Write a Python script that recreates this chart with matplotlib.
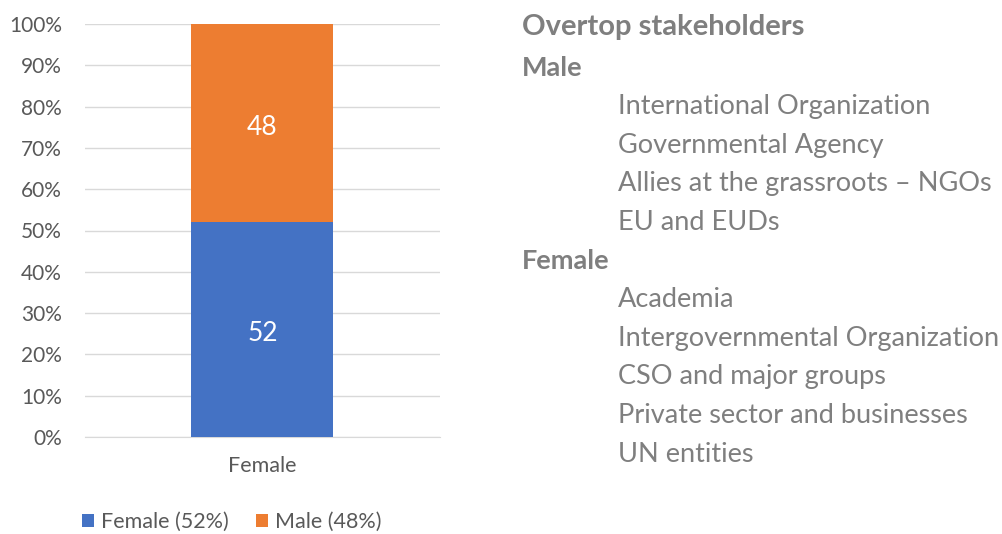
import matplotlib.pyplot as plt
from matplotlib.ticker import PercentFormatter

plt.rcParams['font.family'] = ['Lato', 'DejaVu Sans']

categories = ['Female']
female = [52]
male = [48]
male_groups = ['International Organization', 'Governmental Agency',
               'Allies at the grassroots \u2013 NGOs', 'EU and EUDs']
female_groups = ['Academia', 'Intergovernmental Organization',
                 'CSO and major groups', 'Private sector and businesses',
                 'UN entities']

blue = '#4472c4'
orange = '#ed7d31'

fig = plt.figure(figsize=(10.03, 5.34), dpi=100)
W, H = 1003, 534
ax = fig.add_axes([85 / W, 1 - 437 / H, 355 / W, 413 / H])

x = range(len(categories))
b1 = ax.bar(x, female, width=0.4, color=blue, label='Female (52%)', zorder=3)
b2 = ax.bar(x, male, width=0.4, bottom=female, color=orange, label='Male (48%)', zorder=3)
ax.bar_label(b1, label_type='center', color='white', fontsize=19, padding=-3)
ax.bar_label(b2, label_type='center', color='white', fontsize=19, padding=-3)

ax.set_xlim(-0.5, 0.5)
ax.set_ylim(0, 100)
ax.set_yticks(range(0, 101, 10))
ax.yaxis.set_major_formatter(PercentFormatter(decimals=0))
ax.set_xticks(list(x))
ax.set_xticklabels(categories)
ax.grid(axis='y', color='#d9d9d9', lw=1, zorder=0)
for s in ['top', 'right', 'left']:
    ax.spines[s].set_visible(False)
ax.spines['bottom'].set_color('#d9d9d9')
ax.tick_params(axis='y', length=0, labelsize=15, labelcolor='#595959', pad=16.5)
ax.tick_params(axis='x', length=0, labelsize=15.5, labelcolor='#595959', pad=14)

fig.legend(handles=[b1, b2], loc='center left', bbox_to_anchor=(63 / W, 1 - 522 / H),
           ncol=2, frameon=False, fontsize=15.5, labelcolor='#595959',
           handlelength=0.55, handleheight=0.55, handletextpad=0.3, columnspacing=1.3)

gray = '#7f7f7f'
step = 38.6
y = 27
fig.text(522 / W, 1 - y / H, 'Overtop stakeholders', fontsize=21, fontweight='bold',
         color=gray, va='center')
y += 41
fig.text(522 / W, 1 - y / H, 'Male', fontsize=19.5, fontweight='bold', color=gray, va='center')
for g in male_groups:
    y += step
    fig.text(618 / W, 1 - y / H, g, fontsize=19.5, color=gray, va='center')
y += step
fig.text(522 / W, 1 - y / H, 'Female', fontsize=19.5, fontweight='bold', color=gray, va='center')
for g in female_groups:
    y += step
    fig.text(618 / W, 1 - y / H, g, fontsize=19.5, color=gray, va='center')

fig.savefig('out.png', dpi=100)
